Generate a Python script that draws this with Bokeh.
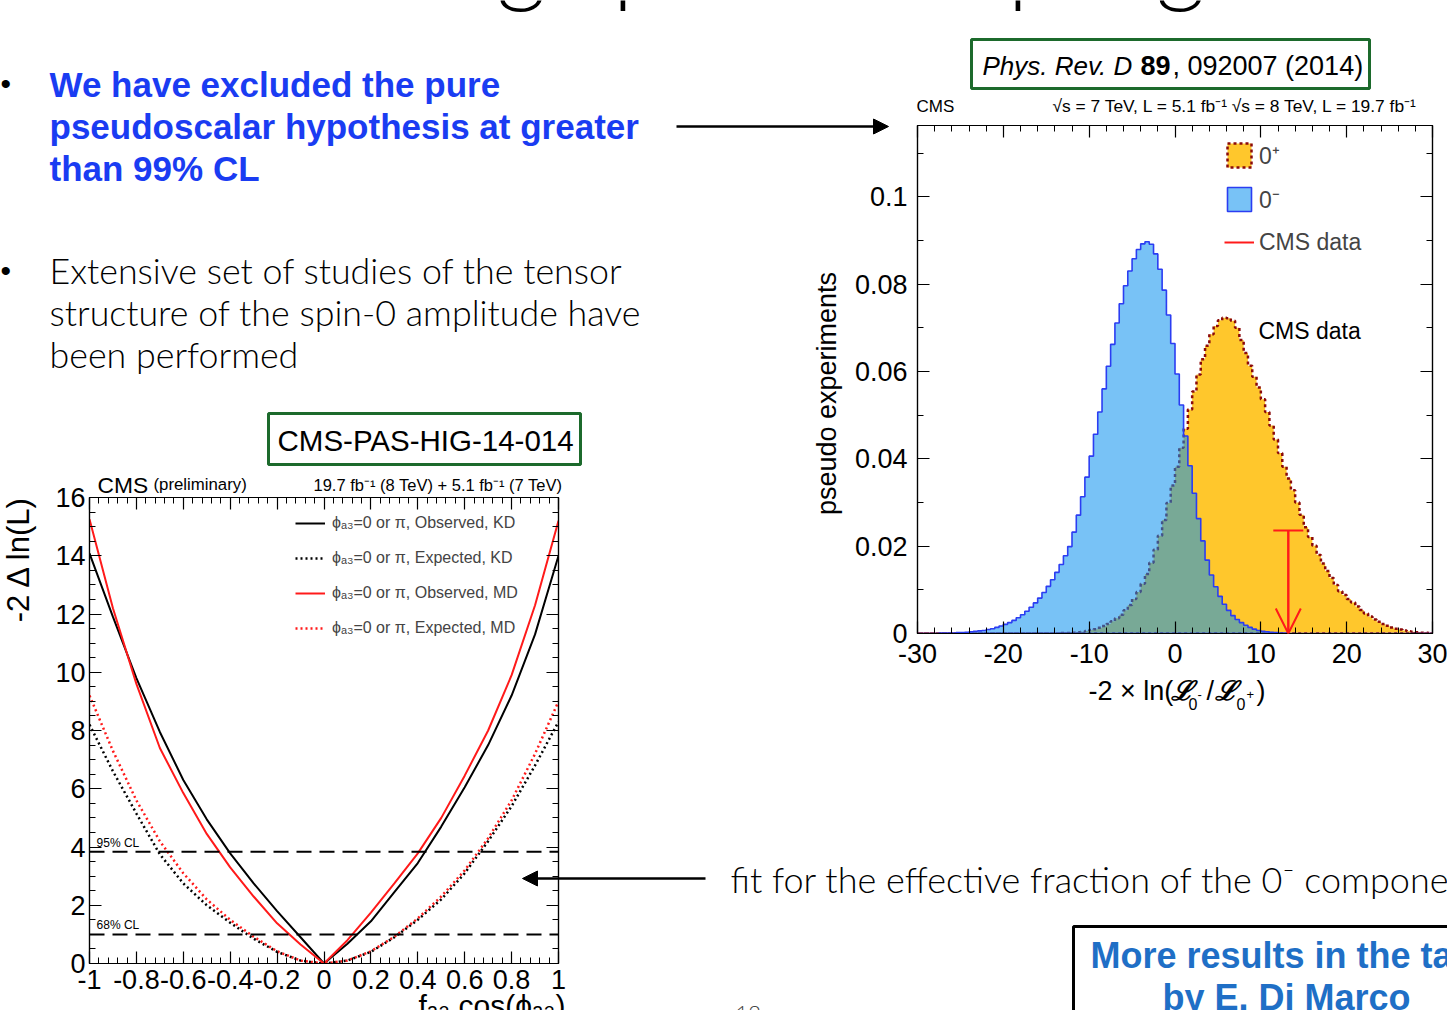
import numpy as np
from bokeh.plotting import figure
from bokeh.models import (Range1d, FixedTicker, LinearAxis, Legend, LegendItem,
                          Span, Arrow, OpenHead, NormalHead, GridBox)
from bokeh.core.properties import value
from bokeh.embed import file_html
from bokeh.resources import INLINE

CHART_FONT = "Liberation Sans"
LIGHT_FONT = "Lato Light"
BOLD_FONT = "Liberation Sans"

# ---------------- pseudo-experiment distributions (fraction per 0.5 bin) ----------------
bin_edges = np.linspace(-30.0, 30.0, 121)

frac_0minus = [
    0, 0, 0, 0, 0,                                              # -29.75 .. -27.75
    0.0001, 0.0001, 0.0001, 0.0001, 0.0002, 0.0002, 0.0003, 0.0004,  # -27.25 .. -23.75
    0.0005, 0.0006, 0.0007, 0.0009, 0.0011, 0.0014, 0.0017, 0.0021,  # -23.25 .. -19.75
    0.0025, 0.0030, 0.0036, 0.0043, 0.0051, 0.0060, 0.0070, 0.0081,  # -19.25 .. -15.75
    0.0094, 0.0108, 0.0123, 0.0140, 0.0158, 0.0178, 0.0199, 0.0232,  # -15.25 .. -11.75
    0.0271, 0.0313, 0.0358, 0.0406, 0.0456, 0.0507, 0.0560, 0.0612,  # -11.25 .. -7.75
    0.0662, 0.0711, 0.0755, 0.0796, 0.0830, 0.0858, 0.0879, 0.0892,  # -7.25 .. -3.75
    0.0897, 0.0891, 0.0869, 0.0834, 0.0786, 0.0729, 0.0664, 0.0594,  # -3.25 .. 0.25
    0.0523, 0.0452, 0.0384, 0.0321, 0.0263, 0.0212, 0.0168, 0.0134,  # 0.75 .. 4.25
    0.0107, 0.0085, 0.0067, 0.0053, 0.0041, 0.0032, 0.0025, 0.0019,  # 4.75 .. 8.25
    0.0014, 0.0010, 0.0007, 0.0005, 0.0004, 0.0003, 0.0002, 0.0001,  # 8.75 .. 12.25
    0.0001,                                                      # 12.75
    0, 0, 0, 0, 0, 0, 0, 0, 0, 0, 0, 0, 0, 0, 0, 0, 0,           # 13.25 .. 21.25
    0, 0, 0, 0, 0, 0, 0, 0, 0, 0, 0, 0, 0, 0, 0, 0, 0,           # 21.75 .. 29.75
]

frac_0plus = [
    0, 0, 0, 0, 0, 0, 0, 0, 0, 0, 0,                             # -29.75 .. -24.75
    0, 0, 0, 0, 0, 0, 0, 0, 0, 0, 0,                             # -24.25 .. -19.25
    0, 0, 0, 0, 0, 0, 0, 0, 0, 0, 0,                             # -18.75 .. -13.75
    0.0001, 0.0001, 0.0001, 0.0002, 0.0003, 0.0004, 0.0006, 0.0008,  # -13.25 .. -9.75
    0.0010, 0.0013, 0.0017, 0.0022, 0.0028, 0.0035, 0.0043, 0.0053,  # -9.25 .. -5.75
    0.0065, 0.0079, 0.0095, 0.0114, 0.0136, 0.0162, 0.0192, 0.0224,  # -5.25 .. -1.75
    0.0260, 0.0299, 0.0339, 0.0382, 0.0425, 0.0469, 0.0513, 0.0554,  # -1.25 .. 2.25
    0.0593, 0.0628, 0.0659, 0.0685, 0.0704, 0.0717, 0.0723, 0.0722,  # 2.75 .. 6.25
    0.0716, 0.0700, 0.0672, 0.0642, 0.0613, 0.0588, 0.0563, 0.0536,  # 6.75 .. 10.25
    0.0507, 0.0476, 0.0444, 0.0413, 0.0382, 0.0355, 0.0328, 0.0300,  # 10.75 .. 14.25
    0.0272, 0.0243, 0.0221, 0.0201, 0.0180, 0.0160, 0.0143, 0.0127,  # 14.75 .. 18.25
    0.0111, 0.0097, 0.0088, 0.0079, 0.0071, 0.0062, 0.0054, 0.0046,  # 18.75 .. 22.25
    0.0039, 0.0032, 0.0027, 0.0022, 0.0018, 0.0014, 0.0011, 0.0009,  # 22.75 .. 26.25
    0.0007, 0.0005, 0.0004, 0.0003, 0.0002, 0.0002, 0.0001,          # 26.75 .. 29.75
]

cms_observed = 13.2          # observed -2 ln(L0-/L0+)

# ---------------- likelihood scan vs f_a3 cos(phi_a3) ----------------
fa3 = [-1.0, -0.9, -0.8, -0.7, -0.6, -0.5, -0.4, -0.3, -0.2, -0.1, 0.0,
       0.1, 0.2, 0.3, 0.4, 0.5, 0.6, 0.7, 0.8, 0.9, 1.0]
obs_kd = [14.08, 11.9, 9.8, 7.95, 6.3, 4.95, 3.78, 2.75, 1.8, 0.9, 0.0,
          0.68, 1.45, 2.45, 3.45, 4.7, 6.05, 7.5, 9.2, 11.3, 14.0]
exp_kd = [8.2, 6.6, 5.15, 3.75, 2.75, 2.0, 1.4, 0.85, 0.4, 0.1, 0.0,
          0.1, 0.4, 0.9, 1.5, 2.2, 3.1, 4.2, 5.4, 6.8, 8.3]
obs_md = [15.25, 12.2, 9.6, 7.4, 5.85, 4.45, 3.3, 2.3, 1.38, 0.65, 0.0,
          0.8, 1.75, 2.75, 3.78, 5.0, 6.45, 8.0, 9.9, 12.3, 15.2]
exp_md = [9.2, 7.3, 5.6, 4.2, 3.1, 2.2, 1.5, 0.92, 0.42, 0.1, 0.0,
          0.1, 0.42, 0.92, 1.55, 2.3, 3.2, 4.3, 5.6, 7.2, 9.0]
cl_68 = 1.0
cl_95 = 3.84

scan_xticks = [-1.0, -0.8, -0.6, -0.4, -0.2, 0.0, 0.2, 0.4, 0.6, 0.8, 1.0]
scan_xlabels = ["-1", "-0.8", "-0.6", "-0.4", "-0.2", "0", "0.2", "0.4", "0.6", "0.8", "1"]
scan_yticks = [0, 2, 4, 6, 8, 10, 12, 14, 16]
hist_xticks = [-30, -20, -10, 0, 10, 20, 30]
hist_xlabels = ["-30", "-20", "-10", "0", "10", "20", "30"]
hist_yticks = [0.0, 0.02, 0.04, 0.06, 0.08, 0.1]
hist_ylabels = ["0", "0.02", "0.04", "0.06", "0.08", "0.1"]


def step_outline(edges, heights):
    xs = np.repeat(np.asarray(edges, dtype=float), 2)
    ys = np.concatenate([[0.0], np.repeat(np.asarray(heights, dtype=float), 2), [0.0]])
    return xs, ys


def root_frame(p, xt, xminor, yt, yminor, font_px, maj, mnr, xstand, ystand,
               xlabels=None, ylabels=None):
    """Ticks pointing inwards on all four sides, labels only bottom/left."""
    bottom, left = p.below[0], p.left[0]
    top, right = LinearAxis(), LinearAxis()
    p.add_layout(top, "above")
    p.add_layout(right, "right")
    for ax in (bottom, top):
        ax.ticker = FixedTicker(ticks=xt, minor_ticks=xminor)
    for ax in (left, right):
        ax.ticker = FixedTicker(ticks=yt, minor_ticks=yminor)
    for ax in (bottom, top, left, right):
        ax.major_tick_in = maj
        ax.major_tick_out = 0
        ax.minor_tick_in = mnr
        ax.minor_tick_out = 0
        ax.axis_line_color = "black"
        ax.axis_line_width = 1.2
        ax.major_tick_line_width = 1.2
        ax.minor_tick_line_width = 1.0
        ax.major_label_text_font = CHART_FONT
        ax.major_label_text_font_size = f"{font_px}px"
        ax.major_label_text_color = "black"
    bottom.major_label_standoff = xstand
    left.major_label_standoff = ystand
    if xlabels:
        bottom.major_label_overrides = dict(zip(xt, xlabels))
    if ylabels:
        left.major_label_overrides = dict(zip(yt, ylabels))
    for ax in (top, right):
        ax.major_label_text_color = None
        ax.major_label_text_font_size = "1px"
        ax.major_label_standoff = 0
    p.xgrid.grid_line_color = None
    p.ygrid.grid_line_color = None


# ======================= hypothesis-separation histogram =======================
pr = figure(width=602, height=570, x_range=Range1d(-30, 30), y_range=Range1d(0, 0.1163),
            output_backend="svg", toolbar_location=None,
            min_border_left=72, min_border_right=15, min_border_top=15, min_border_bottom=47,
            background_fill_color=None, border_fill_color=None,
            outline_line_color="black", outline_line_width=1.2)

xs_p, ys_p = step_outline(bin_edges, frac_0plus)
r_plus = pr.patch(xs_p, ys_p, fill_color="#ffc72c", line_color="#8b0a0a",
                  line_dash="3 3", line_width=2.5)
xs_m, ys_m = step_outline(bin_edges, frac_0minus)
r_minus = pr.patch(xs_m, ys_m, fill_color="#0a8fee", fill_alpha=0.55,
                   line_color="#2b3df2", line_width=1.6)

data_marker_top = 0.0236
r_data = pr.segment(x0=[cms_observed], y0=[0], x1=[cms_observed], y1=[data_marker_top],
                    line_color="#ff1a1a", line_width=2)
pr.scatter(x=[cms_observed], y=[data_marker_top], marker="dash", size=30,
           line_color="#ff1a1a", line_width=2)
pr.add_layout(Arrow(end=OpenHead(size=25, line_color="#ff1a1a", line_width=2),
                    x_start=cms_observed, y_start=data_marker_top,
                    x_end=cms_observed, y_end=0, line_color="#ff1a1a", line_width=2))

root_frame(pr, hist_xticks, list(np.arange(-30, 31, 2)), hist_yticks,
           [round(v, 3) for v in np.arange(0, 0.116, 0.01)], 27, 12, 6, 10, 10,
           xlabels=hist_xlabels, ylabels=hist_ylabels)

leg_r = Legend(items=[LegendItem(label="0⁺", renderers=[r_plus]),
                      LegendItem(label="0⁻", renderers=[r_minus]),
                      LegendItem(label="CMS data", renderers=[r_data])],
               location=(307, 376), glyph_width=30, glyph_height=30, spacing=12,
               padding=0, margin=0, label_standoff=5, label_text_font_size="23px",
               label_text_font=CHART_FONT, border_line_color=None,
               background_fill_alpha=0)
pr.add_layout(leg_r)

# ======================= likelihood scan =======================
pl = figure(width=580, height=540, x_range=Range1d(-1, 1), y_range=Range1d(0, 16),
            output_backend="svg", toolbar_location=None,
            min_border_left=89, min_border_right=22, min_border_top=27, min_border_bottom=47,
            background_fill_color=None, border_fill_color=None,
            outline_line_color="black", outline_line_width=1.2)

for lvl in (cl_95, cl_68):
    pl.add_layout(Span(location=lvl, dimension="width", line_color="black",
                       line_width=2, line_dash="15 8"))
pl.text(x=[-0.97, -0.97], y=[cl_95, cl_68], text=["95% CL", "68% CL"],
        y_offset=-9, text_font=value(CHART_FONT), text_font_size="12px",
        text_baseline="middle", text_align="left")

r_okd = pl.line(fa3, obs_kd, line_color="black", line_width=2)
r_ekd = pl.line(fa3, exp_kd, line_color="black", line_width=2.5, line_dash="2 3")
r_omd = pl.line(fa3, obs_md, line_color="#ff1a1a", line_width=2)
r_emd = pl.line(fa3, exp_md, line_color="#ff1a1a", line_width=2.5, line_dash="2 3")

root_frame(pl, scan_xticks, [round(v, 2) for v in np.arange(-1, 1.001, 0.04)],
           scan_yticks, list(np.arange(0, 16.1, 0.5)), 27, 12, 6, 6, 4,
           xlabels=scan_xlabels)

leg_l = Legend(items=[LegendItem(label="ϕₐ₃=0 or π, Observed, KD", renderers=[r_okd]),
                      LegendItem(label="ϕₐ₃=0 or π, Expected, KD", renderers=[r_ekd]),
                      LegendItem(label="ϕₐ₃=0 or π, Observed, MD", renderers=[r_omd]),
                      LegendItem(label="ϕₐ₃=0 or π, Expected, MD", renderers=[r_emd])],
               location=(206, 325), glyph_width=30, glyph_height=20, spacing=15,
               padding=0, margin=0, label_standoff=7, label_text_font_size="16px",
               label_text_font=CHART_FONT, border_line_color=None,
               background_fill_alpha=0)
pl.add_layout(leg_l)

# ======================= slide canvas (pixel coordinates) =======================
bg = figure(width=1447, height=1010, x_range=Range1d(0, 1447), y_range=Range1d(1010, 0),
            output_backend="svg", toolbar_location=None, x_axis_type=None, y_axis_type=None,
            min_border=0, outline_line_color=None,
            background_fill_color="white", border_fill_color="white")


def put(x, y, txt, size, color="black", font=CHART_FONT, style="normal",
        align="left", angle=0.0):
    bg.text(x=[x], y=[y], text=[txt], text_font=value(font), text_font_size=f"{size}px",
            text_color=color, text_font_style=style, text_align=align,
            text_baseline="middle", angle=angle)


def box(l, r, t, b, color, width):
    bg.quad(left=[l], right=[r], top=[t], bottom=[b], fill_color=None,
            line_color=color, line_width=width)


BLUE = "#1a3cf2"
put(230, -44, "Probing spin-0 couplings", 96, font=LIGHT_FONT)

put(0, 83, "•", 30)
for i, line in enumerate(["We have excluded the pure",
                          "pseudoscalar hypothesis at greater",
                          "than 99% CL"]):
    put(49, 84 + 42 * i, line, 35, color=BLUE, font=BOLD_FONT, style="bold")

put(0, 270, "•", 30)
for i, line in enumerate(["Extensive set of studies of the tensor",
                          "structure of the spin-0 amplitude have",
                          "been performed"]):
    put(49, 270 + 42 * i, line, 35.8, font=LIGHT_FONT)

bg.add_layout(Arrow(end=NormalHead(size=15, fill_color="black", line_color="black"),
                    x_start=676, y_start=126, x_end=888, y_end=126,
                    line_color="black", line_width=2.5))
bg.add_layout(Arrow(end=NormalHead(size=15, fill_color="black", line_color="black"),
                    x_start=705, y_start=878, x_end=522, y_end=878,
                    line_color="black", line_width=2.5))

put(730, 878, "fit for the effective fraction of the 0⁻ component", 36, font=LIGHT_FONT)

box(1073, 1600, 926, 1100, "black", 3)
put(1090, 955, "More results in the talk", 36, color="#1f6fc6", font=BOLD_FONT, style="bold")
put(1162, 997, "by E. Di Marco", 36, color="#1f6fc6", font=BOLD_FONT, style="bold")
put(735, 1013, "12", 22, color="#444444", font=LIGHT_FONT)

# reference boxes
GREEN = "#1c6a2c"
box(971, 1369, 39, 88, GREEN, 3)
put(982, 65, "Phys. Rev. D", 26, style="italic")
put(1140, 65, "89", 27, style="bold")
put(1172, 65, ", 092007 (2014)", 27)

box(268, 580, 413, 464, GREEN, 3)
put(277, 440, "CMS-PAS-HIG-14-014", 29.5)

# histogram captions
put(916, 106, "CMS", 17)
put(1052, 105, "√s = 7 TeV, L = 5.1 fb⁻¹  √s = 8 TeV, L = 19.7 fb⁻¹", 17.4)
put(826, 393, "pseudo experiments", 27, align="center", angle=np.pi / 2)
put(1088, 690, "-2 × ln(", 27)
put(1170, 690, "ℒ", 27, style="bold italic")
put(1188, 703, "0", 16)
put(1197, 694, "-", 13)
put(1206, 690, "/", 27)
put(1214, 690, "ℒ", 27, style="bold italic")
put(1236, 703, "0", 16)
put(1246, 694, "+", 13)
put(1256, 690, ")", 27)
put(1258, 330, "CMS data", 23)

# scan captions
put(97, 484, "CMS", 22.8)
put(153, 484, "(preliminary)", 16.8)
put(313, 484, "19.7 fb⁻¹ (8 TeV) + 5.1 fb⁻¹ (7 TeV)", 16.5)
put(18, 558, "-2 Δ ln(L)", 31, align="center", angle=np.pi / 2)
put(418, 1005, "fₐ₃ cos(ϕₐ₃)", 30)

# empty 0px tracks keep the page canvas off the chart tracks
layout = GridBox(children=[(bg, 0, 0, 5, 5), (pr, 1, 3, 2, 1), (pl, 2, 1, 2, 1)],
                 rows=["110px", "360px", "210px", "330px", "0px"],
                 cols=["0px", "580px", "265px", "602px", "0px"])

open("out.html", "w").write(file_html(layout, INLINE))
